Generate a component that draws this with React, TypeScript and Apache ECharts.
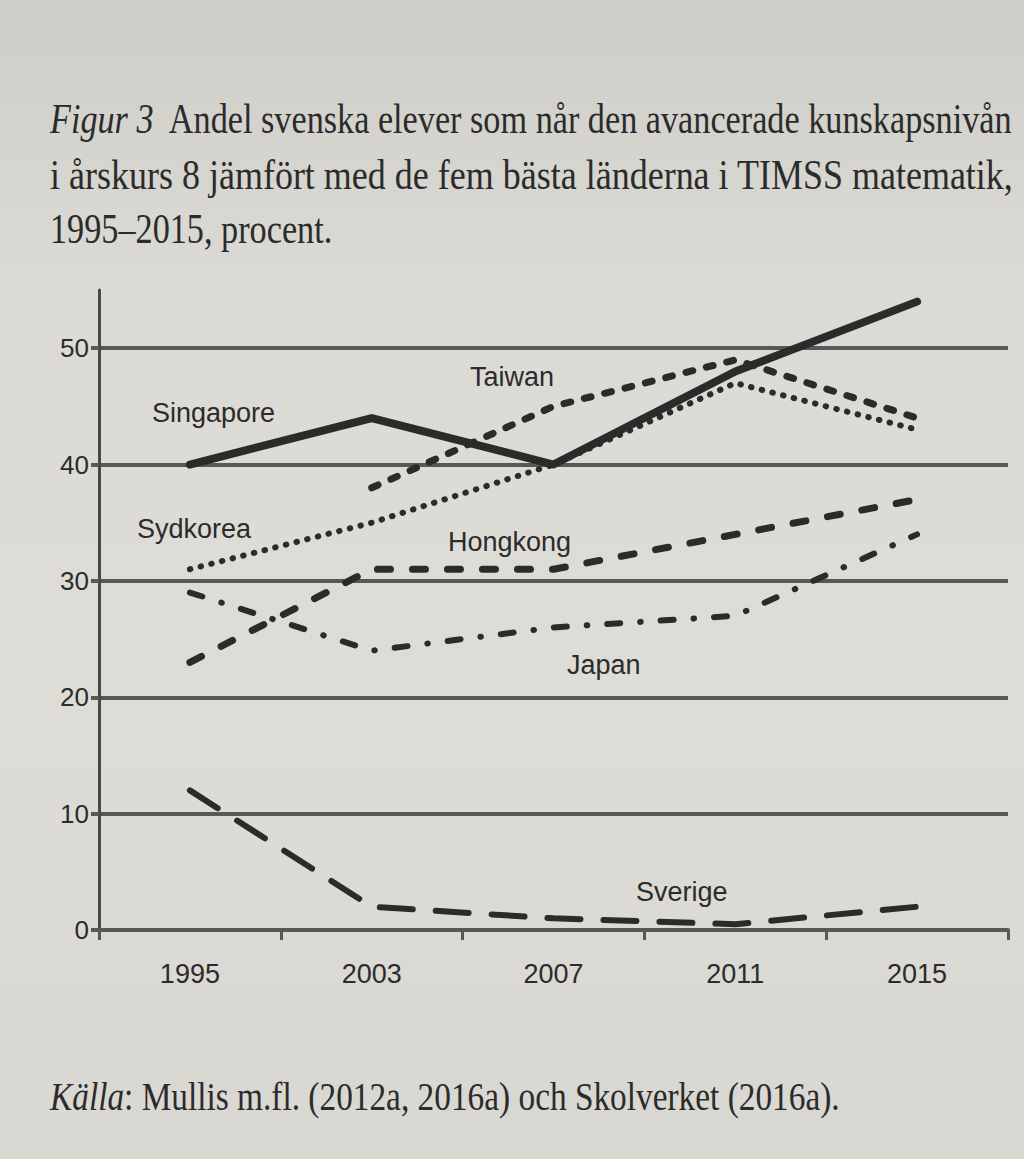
import React, { useEffect, useRef } from "react";
import * as echarts from "echarts";

const years = ["1995", "2003", "2007", "2011", "2015"];
const singapore = [40, 44, 40, 48, 54];
const taiwan = ["-", 38, 45, 49, 44];
const sydkorea = [31, 35, 40, 47, 43];
const hongkong = [23, 31, 31, 34, 37];
const japan = [29, 24, 26, 27, 34];
const sverige = [12, 2, 1, 0.5, 2];
const yTicks = [0, 10, 20, 30, 40, 50];

const titleLines = [
  "{i|Figur 3}  Andel svenska elever som når den avancerade kunskapsnivån",
  "i årskurs 8 jämfört med de fem bästa länderna i TIMSS matematik,",
  "1995–2015, procent.",
];
const titleScale = [0.815, 0.857, 0.815];
const sourceText = "{i|Källa}: Mullis m.fl. (2012a, 2016a) och Skolverket (2016a).";

const seriesLabels = [
  { name: "Singapore", x: 152, y: 399 },
  { name: "Taiwan", x: 470, y: 363 },
  { name: "Sydkorea", x: 137, y: 515 },
  { name: "Hongkong", x: 448, y: 528 },
  { name: "Japan", x: 567, y: 651 },
  { name: "Sverige", x: 636, y: 878 },
];

const INK = "#2b2b2b";
const GRID = "#585858";
const SANS = "'Liberation Sans', Arial, sans-serif";
const SERIF = "'Liberation Serif', 'Times New Roman', serif";

export default function App() {
  const ref = useRef<HTMLDivElement>(null);
  useEffect(() => {
    if (!ref.current) return;
    const chart = echarts.init(ref.current, null, { renderer: "svg" });
    const mk = (name: string, data: any[], width: number, type: any) => ({
      name,
      type: "line",
      data,
      symbol: "none",
      connectNulls: false,
      lineStyle: { color: INK, width, type, cap: "round", join: "round" },
      z: 3,
    });
    const titleGraphics = titleLines.map((t, i) => ({
      type: "text",
      x: 50,
      y: 98 + i * 55,
      scaleX: titleScale[i],
      style: {
        text: t,
        fill: INK,
        font: `42px ${SERIF}`,
        verticalAlign: "top",
        rich: { i: { fontStyle: "italic", fontSize: 42, fontFamily: SERIF, fill: INK } },
      },
    }));
    const labelGraphics = seriesLabels.map((l) => ({
      type: "text",
      x: l.x,
      y: l.y,
      z: 10,
      style: {
        text: l.name,
        fill: INK,
        font: `27px ${SANS}`,
        verticalAlign: "top",
      },
    }));
    chart.setOption({
      animation: false,
      backgroundColor: "transparent",
      grid: { left: 99, right: 16, top: 290, bottom: 229 },
      xAxis: {
        type: "category",
        data: years,
        boundaryGap: true,
        axisLine: { show: true, lineStyle: { color: GRID, width: 4 } },
        axisTick: { show: true, length: 10, lineStyle: { color: GRID, width: 3 } },
        axisLabel: { margin: 30, fontSize: 27, color: INK, fontFamily: SANS },
        splitLine: { show: false },
      },
      yAxis: {
        type: "value",
        min: 0,
        max: 55,
        interval: 10,
        axisLine: { show: true, lineStyle: { color: "#484848", width: 3 } },
        axisTick: { show: true, length: 8, customValues: yTicks, lineStyle: { color: GRID, width: 4 } },
        axisLabel: {
          customValues: yTicks,
          margin: 10,
          fontSize: 26,
          color: INK,
          fontFamily: SANS,
        },
        splitLine: { show: true, lineStyle: { color: GRID, width: 4 } },
      },
      series: [
        mk("Singapore", singapore, 8, "solid"),
        mk("Taiwan", taiwan, 7, [7, 14]),
        mk("Sydkorea", sydkorea, 6, [0.5, 10.5]),
        mk("Hongkong", hongkong, 7, [13, 22]),
        mk("Japan", japan, 6, [13, 20, 0.5, 20]),
        mk("Sverige", sverige, 6, [33, 23]),
      ],
      graphic: [
        ...titleGraphics,
        ...labelGraphics,
        {
          type: "text",
          x: 50,
          y: 1078,
          scaleX: 0.855,
          style: {
            text: sourceText,
            fill: INK,
            font: `39px ${SERIF}`,
            verticalAlign: "top",
            rich: { i: { fontStyle: "italic", fontSize: 39, fontFamily: SERIF, fill: INK } },
          },
        },
      ],
    });
    return () => chart.dispose();
  }, []);
  return (
    <div
      style={{
        position: "absolute",
        left: 0,
        top: 0,
        width: 1024,
        height: 1159,
        background: "linear-gradient(180deg, #cfcdc8 0%, #dcdad5 25%, #dedcd7 60%, #d9d7d2 100%)",
      }}
    >
      <div ref={ref} style={{ width: 1024, height: 1159 }} />
    </div>
  );
}
